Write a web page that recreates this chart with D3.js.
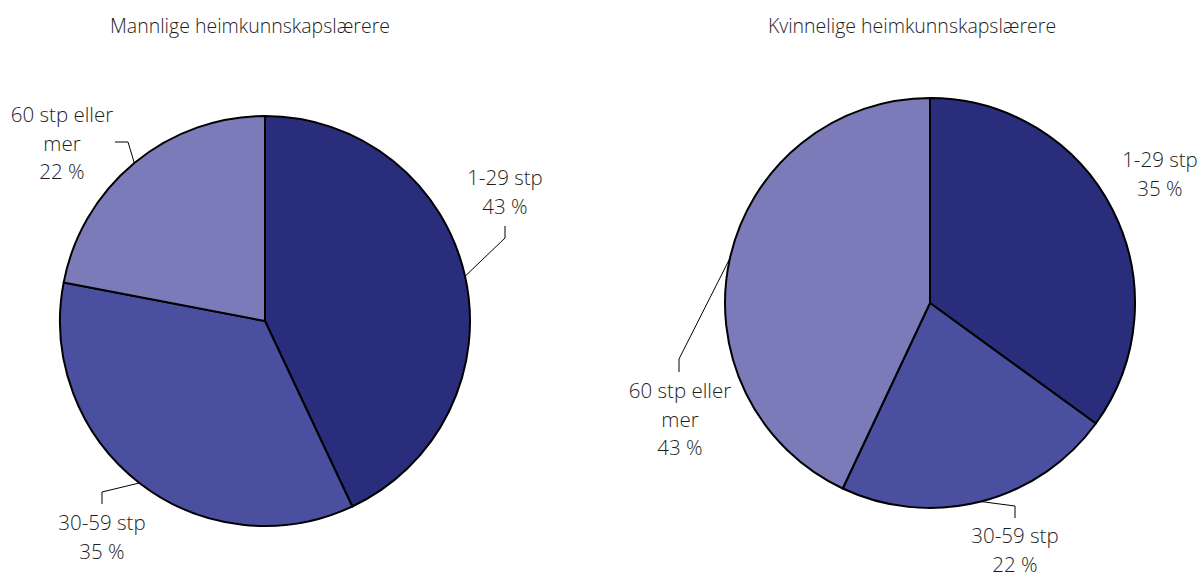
<!DOCTYPE html>
<html><head><meta charset="utf-8">
<script src="https://cdn.jsdelivr.net/npm/d3@7"></script>
<style>body{margin:0;background:#fff}svg{display:block}text{font-family:"Open Sans",sans-serif;fill:#1e1e1e;font-weight:300}</style>
</head><body><svg id="c" width="1203" height="576"></svg>
<script>
const categories = ["1-29 stp", "30-59 stp", "60 stp eller mer"];
const labelLines = [["1-29 stp"], ["30-59 stp"], ["60 stp eller", "mer"]];
const titles = ["Mannlige heimkunnskapslærere", "Kvinnelige heimkunnskapslærere"];
const maleValues = [43, 35, 22];
const femaleValues = [35, 22, 43];
const colors = ["#2a2d7c", "#4b4f9f", "#7c7bba"];

const svg = d3.select("#c");
const R = 205;
// layout: centres, label anchors, leader line elbows
const charts = [
  {values: maleValues, cx: 265, cy: 321, tx: 250,
   labels: [{x: 505, y: 185, elbow: [505, 238], end: [505, 226]},
            {x: 102, y: 530, elbow: [102, 492], end: [102, 504]},
            {x: 62, y: 122, elbow: [128, 142], end: [115, 142]}]},
  {values: femaleValues, cx: 930, cy: 303, tx: 912,
   labels: [{x: 1160, y: 167, elbow: null},
            {x: 1015, y: 543, elbow: [1015, 506], end: [1015, 518]},
            {x: 680, y: 398, elbow: [679, 359], end: [679, 372]}]}
];

const pie = d3.pie().sort(null).value(d => d);
const arc = d3.arc().innerRadius(0).outerRadius(R);

charts.forEach((ch, ci) => {
  svg.append("text").attr("x", ch.tx).attr("y", 33).attr("text-anchor", "middle")
    .style("font-size", "19.5px").text(titles[ci]);
  const g = svg.append("g").attr("transform", `translate(${ch.cx},${ch.cy})`);
  const arcs = pie(ch.values);
  g.selectAll("path").data(arcs).join("path")
    .attr("d", arc).attr("fill", (d, i) => colors[i])
    .attr("stroke", "#000").attr("stroke-width", 2).attr("stroke-linejoin", "round");
  arcs.forEach((a, i) => {
    const L = ch.labels[i];
    if (L.elbow) {
      const ang = (a.startAngle + a.endAngle) / 2;
      const sx = ch.cx + R * Math.sin(ang), sy = ch.cy - R * Math.cos(ang);
      svg.append("polyline")
        .attr("points", [[sx, sy], L.elbow, L.end].map(p => p.join(",")).join(" "))
        .attr("fill", "none").attr("stroke", "#000").attr("stroke-width", 1);
    }
    const lines = labelLines[i].concat([d3.format("d")(ch.values[i]) + " %"]);
    const t = svg.append("text").attr("text-anchor", "middle").style("font-size", "20.5px");
    lines.forEach((s, k) => t.append("tspan").attr("x", L.x).attr("y", L.y + k * 28.5).text(s));
  });
});
</script></body></html>
